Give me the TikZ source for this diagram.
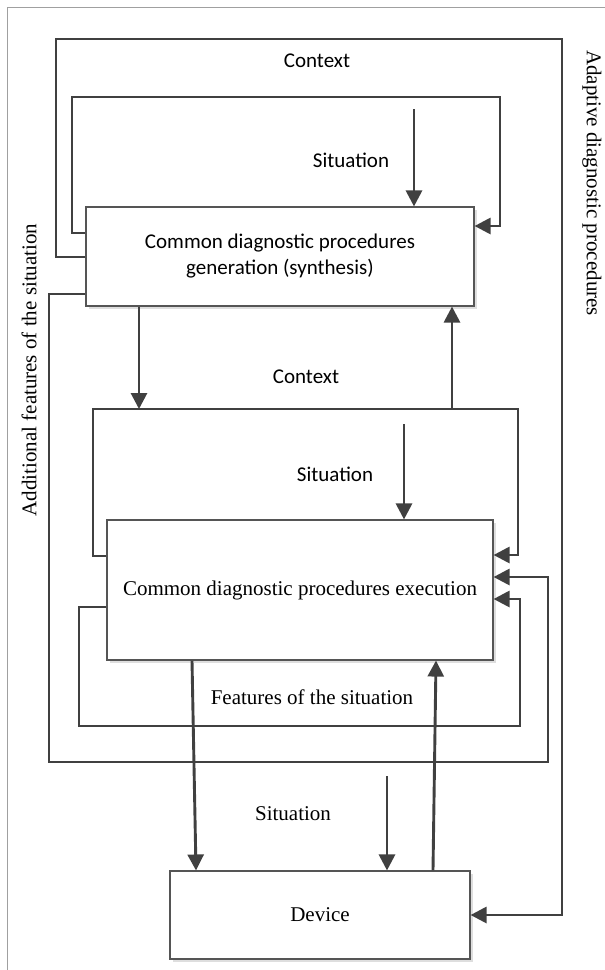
\documentclass[tikz,border=0pt]{standalone}
\usepackage{fontspec}
\setmainfont{Liberation Serif}
\newfontfamily\calib{Carlito}
\usetikzlibrary{arrows.meta, shadows}
\definecolor{lnG}{RGB}{64,64,64}
\definecolor{boxG}{RGB}{85,85,85}
\definecolor{frmG}{RGB}{160,160,160}

\begin{document}
\begin{tikzpicture}[x=1pt, y=-1pt,
  box/.style={draw=boxG, line width=1.1pt, fill=white, inner sep=0pt, align=center,
    drop shadow={shadow xshift=3pt, shadow yshift=-3pt, fill=black!13, opacity=1}},
  link/.style={draw=lnG, line width=2.9pt},
  flow/.style={link, -{Triangle[length=16pt, width=16pt]}},
  sans/.style={font=\fontsize{21}{26}\selectfont\calib},
  serif/.style={font=\fontsize{21}{26}\selectfont}]
\useasboundingbox (0,0) rectangle (605,970);
% page frame
\draw[frmG, line width=0.8pt] (7,970) -- (7,7) -- (605,7);
% ===== blocks =====
\node[box, sans, minimum width=388pt, minimum height=99pt] (gen) at (280,256.5)
  {Common diagnostic procedures\\generation (synthesis)};
\node[box, serif, minimum width=386pt, minimum height=140pt] (exe) at (300,590)
  {Common diagnostic procedures execution};
\node[box, serif, minimum width=300pt, minimum height=88pt] (dev) at (320,915) {Device};
% ===== labels =====
\node[sans] (ctxA) at (317,61) {Context};
\node[sans] (sitA) at (351,160) {Situation};
\node[sans] (ctxB) at (306,377) {Context};
\node[sans] (sitB) at (335,474) {Situation};
\node[serif] (feat) at (312,697) {Features of the situation};
\node[serif] (sitC) at (293,814) {Situation};
\node[serif, rotate=-90] (adapt) at (592,183) {Adaptive diagnostic procedures};
\node[serif, rotate=90] (addf) at (29,370) {Additional features of the situation};
% ===== loops around generation =====
\coordinate (outTL) at (56,39);
\coordinate (outTR) at (562,39);
\coordinate (inTL) at (72,97);
\coordinate (inTR) at (500,97);
\draw[flow] (gen.west |- 0,257) -| (outTL) -- (outTR) |- (dev.east);
\draw[flow] (gen.west |- 0,233) -| (inTL) -- (inTR) |- (gen.east |- 0,226);
\coordinate (sitAin) at (414,109);
\draw[flow] (sitAin) -- (sitAin |- gen.north);
% ===== context loop around execution =====
\coordinate (ctxTL) at (93,409);
\coordinate (ctxTR) at (518,409);
\draw[flow] (gen.south -| 139,0) -- (139,409);
\draw[flow] (452,409) -- (gen.south -| 452,0);
\draw[flow] (exe.west |- 0,556) -| (ctxTL) -- (ctxTR) |- (exe.east |- 0,555);
\coordinate (sitBin) at (404,424);
\draw[flow] (sitBin) -- (sitBin |- exe.north);
% ===== feature loops =====
\coordinate (addBL) at (49,762);
\coordinate (addBR) at (548,762);
\draw[flow] (gen.west |- 0,294) -| (addBL) -- (addBR) |- (exe.east |- 0,577);
\coordinate (featBL) at (79,726);
\coordinate (featBR) at (520,726);
\draw[flow] (exe.west |- 0,607) -| (featBL) -- (featBR) |- (exe.east |- 0,599);
% ===== execution <-> device =====
\draw[flow] (exe.south -| 192,0) -- (dev.north -| 196,0);
\coordinate (sitCin) at (387,776);
\draw[flow] (sitCin) -- (sitCin |- dev.north);
\draw[flow] (dev.north -| 433,0) -- (exe.south -| 436,0);
\end{tikzpicture}
\end{document}
